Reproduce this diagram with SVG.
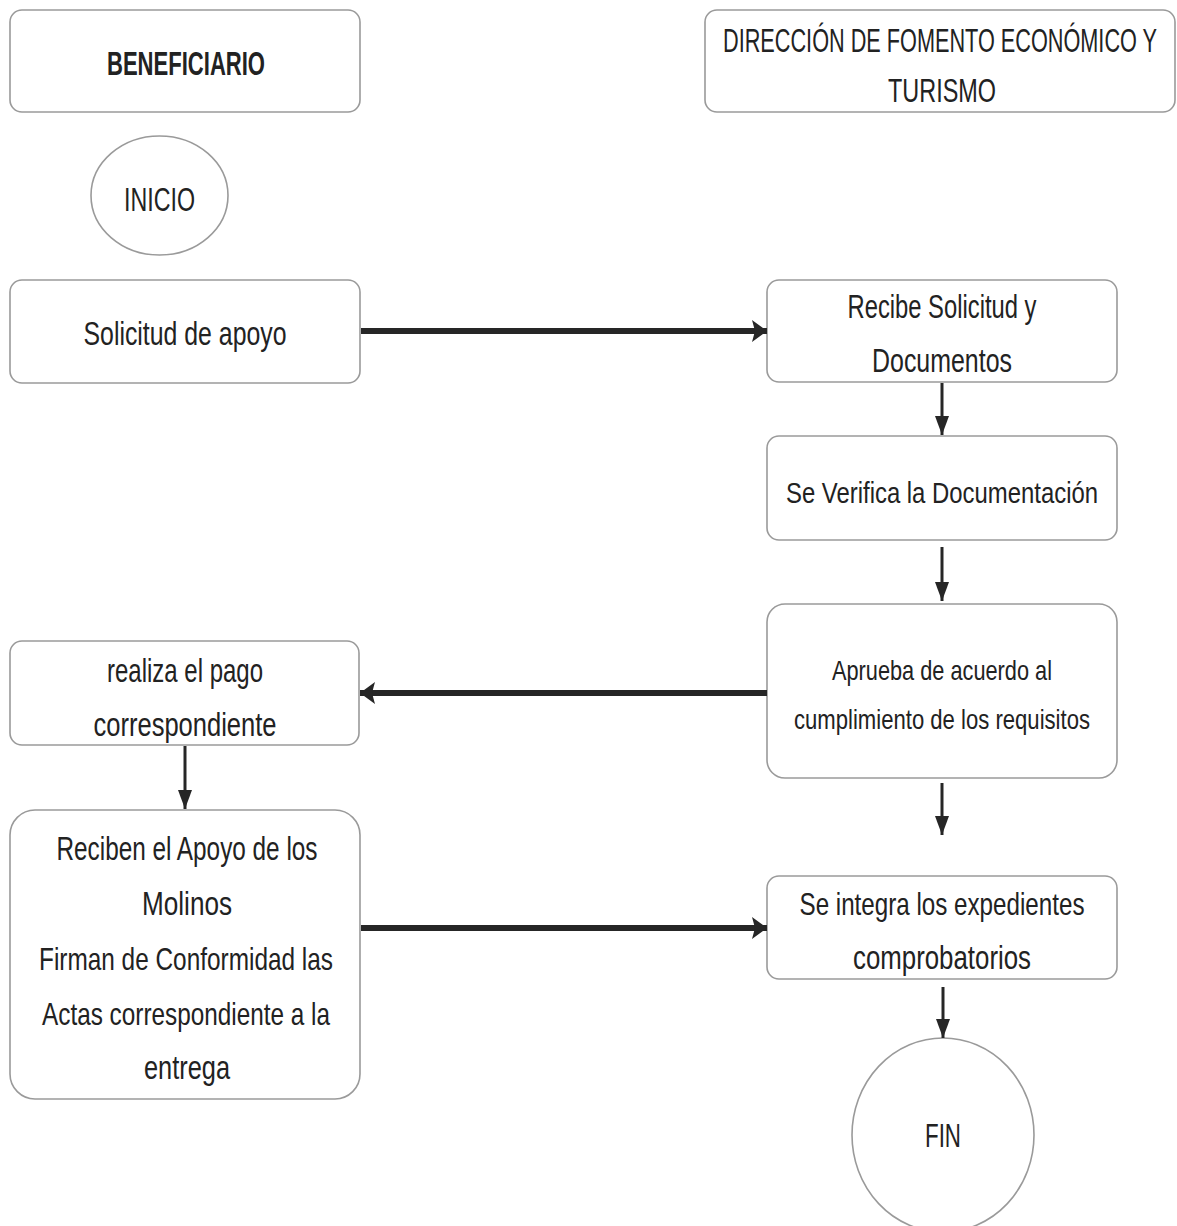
<svg xmlns="http://www.w3.org/2000/svg" width="1177" height="1226" viewBox="0 0 1177 1226">
<defs>
<style>
.box{fill:#fff;stroke:#9a9a9a;stroke-width:1.6}
.t{font-family:"Liberation Sans Narrow","Liberation Sans",Arial,sans-serif;font-size:34px;fill:#222;text-anchor:middle}
.m{font-size:32px}
.n{font-size:30px}
.s{font-size:28px}
.b{font-weight:bold}
.thick{stroke:#262626;stroke-width:6;fill:none}
.thin{stroke:#262626;stroke-width:3;fill:none}
</style>
<marker id="hb" markerUnits="userSpaceOnUse" markerWidth="16" markerHeight="22" refX="15" refY="11" orient="auto">
<path d="M0,0 L15,11 L0,22 L3,11 Z" fill="#262626"/>
</marker>
<marker id="hs" markerUnits="userSpaceOnUse" markerWidth="20" markerHeight="14" refX="19" refY="7" orient="auto">
<path d="M0,0 L19,7 L0,14 Z" fill="#262626"/>
</marker>
</defs>
<rect width="1177" height="1226" fill="#fff"/>

<g id="beneficiario">
<rect class="box" x="10" y="10" width="350" height="102" rx="12"/>
<text class="t b" x="186" y="75" textLength="158" lengthAdjust="spacingAndGlyphs">BENEFICIARIO</text>
</g>
<g id="direccion">
<rect class="box" x="705" y="10" width="470" height="102" rx="12"/>
<text class="t" x="940" y="52" font-size="29" textLength="434" lengthAdjust="spacingAndGlyphs">DIRECCIÓN DE FOMENTO ECONÓMICO Y</text>
<text class="t" x="942" y="102" textLength="108" lengthAdjust="spacingAndGlyphs">TURISMO</text>
</g>
<g id="inicio">
<ellipse class="box" cx="159.5" cy="195.5" rx="68.5" ry="59.5"/>
<text class="t" x="159.5" y="211" font-size="40" textLength="71" lengthAdjust="spacingAndGlyphs">INICIO</text>
</g>
<g id="solicitud">
<rect class="box" x="10" y="280" width="350" height="103" rx="12"/>
<text class="t" x="185" y="345" textLength="203" lengthAdjust="spacingAndGlyphs">Solicitud de apoyo</text>
</g>
<g id="recibe">
<rect class="box" x="767" y="280" width="350" height="102" rx="12"/>
<text class="t" x="942" y="318" textLength="189" lengthAdjust="spacingAndGlyphs">Recibe Solicitud y</text>
<text class="t" x="942" y="372" textLength="140" lengthAdjust="spacingAndGlyphs">Documentos</text>
</g>
<g id="verifica">
<rect class="box" x="767" y="436" width="350" height="104" rx="12"/>
<text class="t n" x="942" y="503" textLength="312" lengthAdjust="spacingAndGlyphs">Se Verifica la Documentación</text>
</g>
<g id="aprueba">
<rect class="box" x="767" y="604" width="350" height="174" rx="18"/>
<text class="t s" x="942" y="680" textLength="220" lengthAdjust="spacingAndGlyphs">Aprueba de acuerdo al</text>
<text class="t s" x="942" y="729" textLength="296" lengthAdjust="spacingAndGlyphs">cumplimiento de los requisitos</text>
</g>
<g id="realiza">
<rect class="box" x="10" y="641" width="349" height="104" rx="12"/>
<text class="t" x="185" y="682" textLength="156" lengthAdjust="spacingAndGlyphs">realiza el pago</text>
<text class="t" x="185" y="736" textLength="183" lengthAdjust="spacingAndGlyphs">correspondiente</text>
</g>
<g id="reciben">
<rect class="box" x="10" y="810" width="350" height="289" rx="25"/>
<text class="t" x="187" y="860" textLength="261" lengthAdjust="spacingAndGlyphs">Reciben el Apoyo de los</text>
<text class="t" x="187" y="915" textLength="90" lengthAdjust="spacingAndGlyphs">Molinos</text>
<text class="t m" x="186" y="970" textLength="294" lengthAdjust="spacingAndGlyphs">Firman de Conformidad las</text>
<text class="t m" x="186" y="1025" textLength="288" lengthAdjust="spacingAndGlyphs">Actas correspondiente a la</text>
<text class="t" x="187" y="1079" textLength="86" lengthAdjust="spacingAndGlyphs">entrega</text>
</g>
<g id="integra">
<rect class="box" x="767" y="876" width="350" height="103" rx="12"/>
<text class="t m" x="942" y="915" textLength="285" lengthAdjust="spacingAndGlyphs">Se integra los expedientes</text>
<text class="t" x="942" y="969" textLength="178" lengthAdjust="spacingAndGlyphs">comprobatorios</text>
</g>
<g id="fin">
<ellipse class="box" cx="943" cy="1135" rx="91" ry="97"/>
<text class="t" x="943" y="1147" textLength="36" lengthAdjust="spacingAndGlyphs">FIN</text>
</g>

<g id="connectors">
<line class="thick" x1="361" y1="331" x2="767" y2="331" marker-end="url(#hb)"/>
<line class="thick" x1="767" y1="693" x2="360" y2="693" marker-end="url(#hb)"/>
<line class="thick" x1="361" y1="928" x2="767" y2="928" marker-end="url(#hb)"/>
<line class="thin" x1="942" y1="383" x2="942" y2="435" marker-end="url(#hs)"/>
<line class="thin" x1="942" y1="547" x2="942" y2="601" marker-end="url(#hs)"/>
<line class="thin" x1="942" y1="783" x2="942" y2="835" marker-end="url(#hs)"/>
<line class="thin" x1="943" y1="987" x2="943" y2="1038" marker-end="url(#hs)"/>
<line class="thin" x1="185" y1="746" x2="185" y2="809" marker-end="url(#hs)"/>
</g>
</svg>
